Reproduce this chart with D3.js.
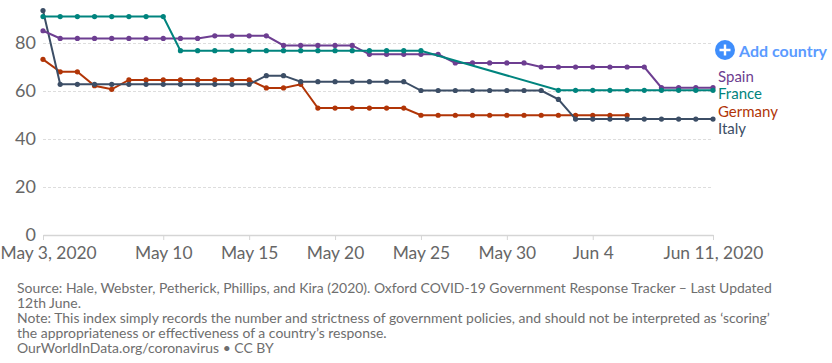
<!DOCTYPE html>
<html>
<head>
<meta charset="utf-8">
<style>
  body { margin: 0; background: #fff; font-family: Lato, sans-serif; }
  svg { display: block; }
</style>
<script src="https://unpkg.com/d3@7/dist/d3.min.js"></script>
</head>
<body>
<div id="chart"></div>
<script>
// Daily values from May 3 to Jun 11, null where a country has no reading
const spain = [85.1, 81.9, 81.9, 81.9, 81.9, 81.9, 81.9, 81.9, 81.9, 81.9,
  83.0, 83.0, 83.0, 83.0, 79, 79, 79, 79, 79, 75.3,
  75.3, 75.3, 75.3, 75.3, 71.7, 71.7, 71.7, 71.7, 71.7, 70,
  70, 70, 70, 70, 70, 70, 61.4, 61.4, 61.4, 61.4];
const france = [91, 91, 91, 91, 91, 91, 91, 91, 76.8, 76.8,
  76.8, 76.8, 76.8, 76.8, 76.8, 76.8, 76.8, 76.8, 76.8, 76.8,
  76.8, 76.8, 76.8, null, null, null, null, null, null, null,
  60.3, 60.3, 60.3, 60.3, 60.3, 60.3, 60.3, 60.3, 60.3, 60.3];
const germany = [73.2, 68, 68, 62.2, 60.7, 64.6, 64.6, 64.6, 64.6, 64.6,
  64.6, 64.6, 64.6, 61.3, 61.3, 62.8, 52.9, 52.9, 52.9, 52.9,
  52.9, 52.9, 49.9, 49.9, 49.9, 49.9, 49.9, 49.9, 49.9, 49.9,
  49.9, 49.9, 49.9, 49.9, 49.9, null, null, null, null, null];
const italy = [93.5, 62.8, 62.8, 62.8, 62.8, 62.8, 62.8, 62.8, 62.8, 62.8,
  62.8, 62.8, 62.8, 66.4, 66.4, 63.9, 63.9, 63.9, 63.9, 63.9,
  63.9, 63.9, 60.2, 60.2, 60.2, 60.2, 60.2, 60.2, 60.2, 60.2,
  56.5, 48.3, 48.3, 48.3, 48.3, 48.3, 48.3, 48.3, 48.3, 48.3];

const startDate = new Date(Date.UTC(2020, 4, 3));
const dates = d3.range(40).map((i) => d3.utcDay.offset(startDate, i));

const countries = ["Spain", "France", "Germany", "Italy"];
const colors = ["#6d3e91", "#00847e", "#b13507", "#3c4e66"];
const labelY = [77, 94, 112, 129];

const yTicks = [0, 20, 40, 60, 80];
const xTickDates = [
  [2020, 4, 3], [2020, 4, 10], [2020, 4, 15], [2020, 4, 20],
  [2020, 4, 25], [2020, 4, 30], [2020, 5, 4], [2020, 5, 11]
].map((d) => new Date(Date.UTC(d[0], d[1], d[2])));
const xTickLabels = ["May 3, 2020", "May 10", "May 15", "May 20", "May 25", "May 30", "Jun 4", "Jun 11, 2020"];

const footer = [
  "Source: Hale, Webster, Petherick, Phillips, and Kira (2020). Oxford COVID-19 Government Response Tracker – Last Updated",
  "12th June.",
  "Note: This index simply records the number and strictness of government policies, and should not be interpreted as ‘scoring’",
  "the appropriateness or effectiveness of a country’s response.",
  "OurWorldInData.org/coronavirus • CC BY"
];

const w = 832;
const h = 363;

const svg = d3.select("#chart")
  .append("svg")
  .attr("width", w)
  .attr("height", h);

const xScale = d3.scaleUtc()
  .domain([dates[0], dates[dates.length - 1]])
  .range([43, 713]);

const yScale = d3.scaleLinear()
  .domain([0, 80])
  .range([235, 43]);

// y axis with the dashed grid
const yAxis = d3.axisLeft(yScale)
  .tickValues(yTicks)
  .tickSize(0)
  .tickPadding(7);

const yG = svg.append("g")
  .attr("transform", "translate(43, 0)")
  .call(yAxis);
yG.select(".domain").remove();
yG.selectAll("text")
  .style("font-family", "Lato")
  .style("font-size", "18px")
  .attr("fill", "#666");
yG.selectAll(".tick")
  .filter((d) => d !== 0)
  .append("line")
  .attr("x2", 670)
  .attr("stroke", "#ddd")
  .attr("stroke-dasharray", "3,2");

// x axis
const xAxis = d3.axisBottom(xScale)
  .tickValues(xTickDates)
  .tickFormat((d, i) => xTickLabels[i])
  .tickSizeInner(5)
  .tickSizeOuter(0)
  .tickPadding(7);

const xG = svg.append("g")
  .attr("transform", "translate(0, 235)")
  .call(xAxis);
xG.select(".domain")
  .attr("stroke", "#d5d5d5")
  .attr("stroke-width", 1.5);
xG.selectAll(".tick line").attr("stroke", "#d5d5d5");
xG.selectAll("text")
  .style("font-family", "Lato")
  .style("font-size", "17.4px")
  .attr("fill", "#666");
// first label would run off the page, so it starts at the left edge
xG.select(".tick text")
  .attr("text-anchor", "start")
  .attr("x", -43);

// Lines and dots
const series = [spain, france, germany, italy].map((values, i) => ({
  name: countries[i],
  color: colors[i],
  points: values
    .map((v, j) => ({ date: dates[j], value: v }))
    .filter((p) => p.value !== null)
}));

const line = d3.line()
  .x((d) => xScale(d.date))
  .y((d) => yScale(d.value));

// Italy goes first so the draw order follows the reference
const seriesG = svg.selectAll(".series")
  .data([series[2], series[3], series[0], series[1]])
  .enter()
  .append("g")
  .attr("class", "series");

seriesG.append("path")
  .attr("d", (d) => line(d.points))
  .attr("fill", "none")
  .attr("stroke", (d) => d.color)
  .attr("stroke-width", 2);

seriesG.selectAll("circle")
  .data((d) => d.points.map((p) => ({ ...p, color: d.color })))
  .enter()
  .append("circle")
  .attr("cx", (d) => xScale(d.date))
  .attr("cy", (d) => yScale(d.value))
  .attr("r", 2.6)
  .attr("fill", (d) => d.color);

// Country labels
svg.selectAll(".country")
  .data(countries)
  .enter()
  .append("text")
  .attr("class", "country")
  .attr("x", 718)
  .attr("y", (d, i) => labelY[i])
  .attr("dy", "0.35em")
  .attr("fill", (d, i) => colors[i])
  .style("font-size", "15px")
  .text((d) => d);

// Add country button
const addG = svg.append("g").attr("transform", "translate(725, 50)");
addG.append("circle").attr("r", 10).attr("fill", "#3f8efc");
addG.append("path")
  .attr("d", "M-5.5,0H5.5M0,-5.5V5.5")
  .attr("stroke", "#fff")
  .attr("stroke-width", 2.4);
svg.append("text")
  .attr("x", 739)
  .attr("y", 57)
  .attr("fill", "#5b9bff")
  .style("font-size", "16px")
  .style("font-weight", 700)
  .text("Add country");

// Footer
svg.selectAll(".footer")
  .data(footer)
  .enter()
  .append("text")
  .attr("class", "footer")
  .attr("x", 17)
  .attr("y", (d, i) => 292.5 + i * 15)
  .attr("fill", "#6e6e6e")
  .style("font-size", "13.94px")
  .text((d) => d);
</script>
</body>
</html>
